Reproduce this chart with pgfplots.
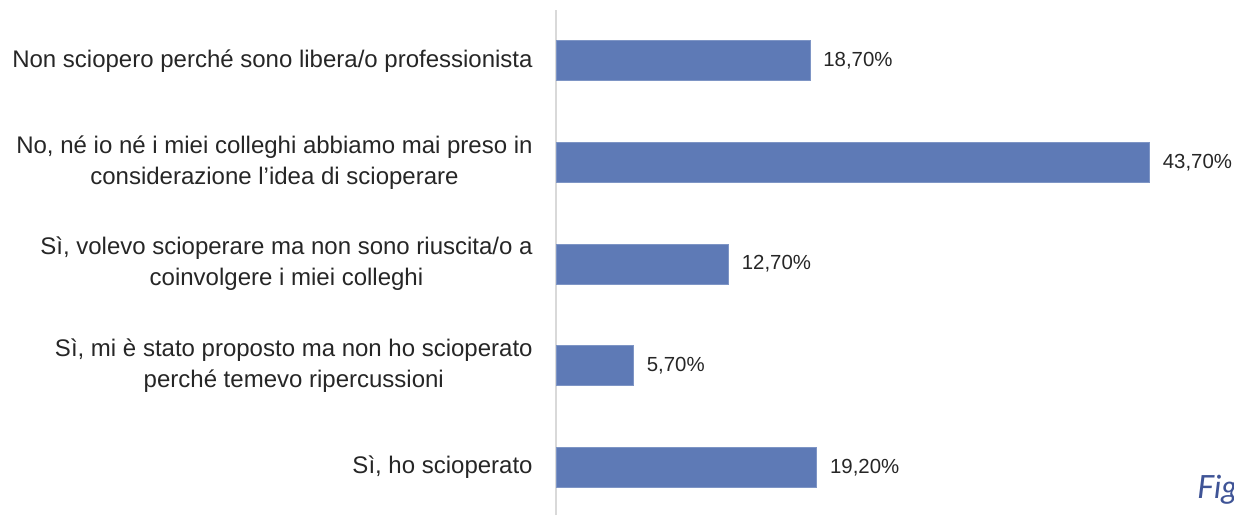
\documentclass[border=0pt]{standalone}
\usepackage{pgfplots}
\pgfplotsset{compat=1.18}
\usepackage{fontspec}
\setmainfont{Liberation Sans}
\newfontfamily\figfont{Lato}
\definecolor{barblue}{HTML}{5E7AB6}
\definecolor{figblue}{HTML}{3F5496}
\definecolor{axgray}{HTML}{D9D9D9}
\begin{document}
\begin{tikzpicture}[x=1pt,y=1pt]
\useasboundingbox (0,0) rectangle (617,257.5);
\begin{axis}[
  at={(278pt,0pt)}, anchor=south west,
  scale only axis, width=339.5pt, height=252.5pt,
  xbar, bar width=20pt,
  xmin=0, xmax=50, ymin=-0.47, ymax=4.5,
  axis x line=none,
  axis y line*=left,
  y axis line style={draw=axgray, line width=0.8pt, -},
  ytick={0,1,2,3,4},
  yticklabels={
    {Sì, ho scioperato},
    {Sì, mi è stato proposto ma non ho scioperato\\perché temevo ripercussioni},
    {Sì, volevo scioperare ma non sono riuscita/o a\\coinvolgere i miei colleghi},
    {No, né io né i miei colleghi abbiamo mai preso in\\considerazione l’idea di scioperare},
    {Non sciopero perché sono libera/o professionista}},
  major tick length=0pt,
  y tick label style={align=center, font=\fontsize{12}{15.5}\selectfont, inner sep=0pt, xshift=-11.5pt, text=black!85},
  nodes near coords,
  point meta=explicit symbolic,
  every node near coord/.append style={font=\fontsize{10.2}{12}\selectfont, inner sep=0pt, xshift=6.5pt, anchor=west, text=black!85},
  clip=false,
]
\addplot[fill=barblue, draw=barblue!80!white] table[meta=lab] {
x y lab
19.2 0 19,20\%
5.7 1 5,70\%
12.7 2 12,70\%
43.7 3 43,70\%
18.7 4 18,70\%
};
\end{axis}
\node[anchor=base west, font=\figfont\itshape\fontsize{16}{18}\selectfont, text=figblue, inner sep=0pt] at (598.5, 8.5) {Fig.};
\end{tikzpicture}
\end{document}
